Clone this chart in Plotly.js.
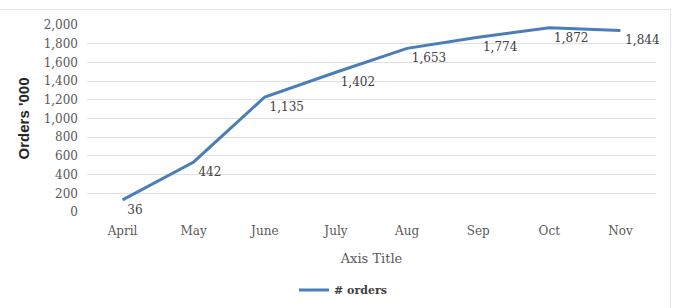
<!DOCTYPE html>
<html>
<head>
<meta charset="utf-8">
<script src="https://cdn.plot.ly/plotly-3.0.1.min.js"></script>
<style>
html,body{margin:0;padding:0;background:#fff;}
#frame{position:absolute;left:-1px;top:9px;width:672px;height:310px;border:1px solid #e3e3e3;box-sizing:border-box;pointer-events:none;z-index:5;}
#chart{width:675px;height:308px;}
</style>
</head>
<body>
<div id="frame"></div>
<div id="chart"></div>
<script>
// Data
const months = ["April", "May", "June", "July", "Aug", "Sep", "Oct", "Nov"];
const orderLine = [130, 535, 1230, 1495, 1750, 1870, 1970, 1940];   // line positions as drawn
const orderLabels = [36, 442, 1135, 1402, 1653, 1774, 1872, 1844];  // data labels as printed
const yTicks = [0, 200, 400, 600, 800, 1000, 1200, 1400, 1600, 1800, 2000];

const fmt = v => v.toLocaleString("en-US");

const trace = {
  x: months,
  y: orderLine,
  type: "scatter",
  mode: "lines+markers+text",
  name: "# orders",
  line: {color: "#4a7ebb", width: 3},
  marker: {size: 6, opacity: 0, color: "rgba(0,0,0,0)", line: {width: 0}},
  text: orderLabels.map(fmt),
  textposition: "bottom right",
  textfont: {family: "DejaVu Serif", size: 12, color: "#404040"},
  cliponaxis: false,
  hoverinfo: "skip"
};

const layout = {
  width: 675,
  height: 308,
  margin: {l: 87, r: 19, t: 25, b: 96, autoexpand: false},
  paper_bgcolor: "#ffffff",
  plot_bgcolor: "#ffffff",
  showlegend: true,
  legend: {
    orientation: "h",
    x: 0.45, xanchor: "center",
    y: -0.417, yanchor: "middle",
    font: {family: "DejaVu Serif", size: 11, color: "#404040", weight: "bold"},
    itemwidth: 30
  },
  xaxis: {
    type: "category",
    range: [-0.5, 7.5],
    showgrid: false,
    zeroline: false,
    showline: false,
    ticks: "",
    automargin: false,
    ticklabelstandoff: 10,
    tickfont: {family: "DejaVu Serif", size: 12, color: "#595959"},
    title: {text: "Axis Title", font: {family: "DejaVu Serif", size: 13, color: "#595959"}, standoff: 16}
  },
  yaxis: {
    range: [0, 2000],
    tickvals: yTicks,
    ticktext: yTicks.map(fmt),
    showgrid: true,
    gridcolor: "#e0e0e0",
    gridwidth: 1,
    zeroline: false,
    showline: false,
    ticks: "",
    automargin: false,
    ticklabelstandoff: 8,
    tickfont: {family: "DejaVu Serif", size: 12, color: "#595959"},
    title: {text: "Orders '000", font: {family: "Liberation Sans", size: 15, color: "#262626", weight: "bold"}, standoff: 10}
  },
  font: {family: "DejaVu Serif"}
};

Plotly.newPlot("chart", [trace], layout, {displayModeBar: false, staticPlot: true});
</script>
</body>
</html>
